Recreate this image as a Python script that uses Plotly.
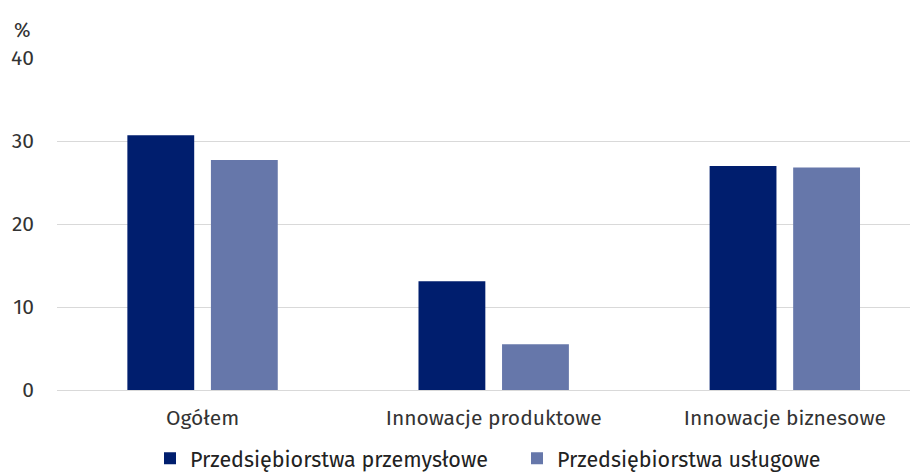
import plotly.graph_objects as go

categories = ["Ogółem", "Innowacje produktowe", "Innowacje biznesowe"]
series_names = ["Przedsiębiorstwa przemysłowe", "Przedsiębiorstwa usługowe"]
przemyslowe = [30.7, 13.1, 27.0]
uslugowe = [27.7, 5.5, 26.8]
y_ticks = [0, 10, 20, 30, 40]

dark = "#001E6E"
light = "#6677AA"
font_family = "Fira Sans, Noto Sans, Open Sans, sans-serif"

fig = go.Figure()
fig.add_trace(go.Bar(x=categories, y=przemyslowe, name=series_names[0],
                     marker=dict(color=dark, line=dict(width=0))))
fig.add_trace(go.Bar(x=categories, y=uslugowe, name=series_names[1],
                     marker=dict(color=light, line=dict(width=0))))

fig.update_layout(
    width=924, height=473,
    margin=dict(l=49, r=22, t=50, b=91, autoexpand=False),
    paper_bgcolor="white", plot_bgcolor="white",
    barmode="group", bargap=0.426, bargroupgap=0.2,
    font=dict(family=font_family, size=21, color="#333333"),
    showlegend=True,
    legend=dict(orientation="h", xref="container", x=142 / 924, xanchor="left",
                yref="container", y=0.048, yanchor="middle",
                font=dict(size=21.5, color="#222222"), itemwidth=30,
                entrywidth=322, traceorder="normal"),
    annotations=[dict(text="%", xref="paper", yref="paper", x=-0.04, y=1.084,
                      xanchor="center", yanchor="middle", showarrow=False,
                      font=dict(size=20, color="#333333"))],
)
fig.update_xaxes(range=[-0.5, 2.43], showgrid=False, showline=False, ticks="",
                 automargin=False, ticklabelstandoff=13,
                 tickfont=dict(size=21, color="#333333"))
fig.update_yaxes(range=[0, 40], tickvals=y_ticks, showgrid=True, gridcolor="#D9D9D9",
                 gridwidth=1, zeroline=True, zerolinecolor="#D9D9D9", zerolinewidth=1,
                 showline=False, ticks="", ticklabelstandoff=22, automargin=False,
                 tickfont=dict(size=21, color="#333333"))

fig.write_html("out.html")
